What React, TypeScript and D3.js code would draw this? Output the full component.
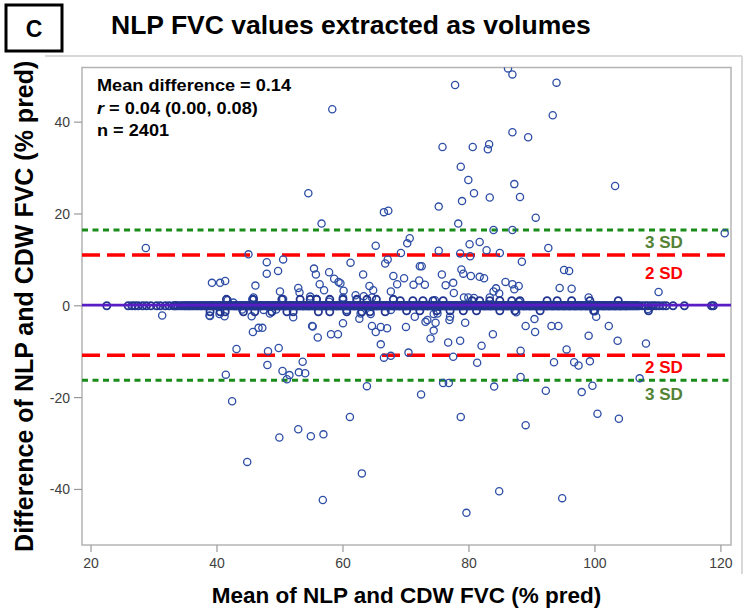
import React from 'react';
import * as d3 from 'd3';

const xTicks = [20, 40, 60, 80, 100, 120];
const yTicks = [-40, -20, 0, 20, 40];
const meanDiff = 0.14;
const sdValue = 5.45;
const statLines = ['Mean difference = 0.14', 'r = 0.04 (0.00, 0.08)', 'n = 2401'];

// points lying on zero difference (dense band)
const zeroX = [
  22.5, 25.9, 26.5, 27.0, 27.5, 28.2, 28.8, 29.5, 30.4, 31.0, 31.8, 32.4, 33.1, 33.5, 34.2, 34.8, 35.3, 35.7, 36.2, 36.8,
  37.3, 37.7, 38.2, 38.7, 39.1, 39.4, 39.9, 40.3, 40.6, 41.0, 41.5, 41.8, 42.1, 42.6, 42.9, 43.2, 43.7, 43.9, 44.3, 44.7,
  45.0, 45.3, 45.8, 46.0, 46.3, 46.8, 47.0, 47.3, 47.8, 48.0, 48.3, 48.7, 49.0, 49.3, 49.7, 49.9, 50.2, 50.7, 50.9, 51.2,
  51.6, 51.8, 52.1, 52.5, 52.8, 53.1, 53.5, 53.7, 54.0, 54.4, 54.6, 54.9, 55.3, 55.5, 55.8, 56.2, 56.4, 56.7, 57.1, 57.3,
  57.6, 58.0, 58.2, 58.5, 58.9, 59.1, 59.4, 59.8, 60.0, 60.3, 60.7, 60.9, 61.2, 61.6, 61.8, 62.1, 62.5, 62.7, 63.0, 63.4,
  63.6, 63.9, 64.3, 64.5, 64.8, 65.2, 65.4, 65.7, 66.1, 66.3, 66.6, 67.0, 67.2, 67.5, 67.9, 68.1, 68.4, 68.8, 69.0, 69.3,
  69.7, 69.9, 70.2, 70.6, 70.8, 71.1, 71.5, 71.7, 72.0, 72.4, 72.6, 72.9, 73.3, 73.5, 73.8, 74.2, 74.4, 74.7, 75.1, 75.3,
  75.6, 76.0, 76.2, 76.5, 76.9, 77.1, 77.4, 77.8, 78.0, 78.3, 78.7, 78.9, 79.2, 79.6, 79.8, 80.1, 80.5, 80.7, 81.0, 81.4,
  81.6, 81.9, 82.3, 82.5, 82.8, 83.2, 83.4, 83.7, 84.1, 84.3, 84.6, 85.0, 85.2, 85.5, 85.9, 86.1, 86.4, 86.8, 87.0, 87.3,
  87.7, 87.9, 88.2, 88.6, 88.8, 89.1, 89.5, 89.7, 90.0, 90.4, 90.6, 90.9, 91.3, 91.5, 91.8, 92.2, 92.4, 92.7, 93.1, 93.3,
  93.6, 94.0, 94.2, 94.5, 94.9, 95.1, 95.4, 95.8, 96.0, 96.3, 96.7, 96.9, 97.2, 97.6, 97.8, 98.1, 98.5, 98.7, 99.0, 99.4,
  99.6, 99.9, 100.3, 100.5, 100.8, 101.2, 101.4, 101.7, 102.1, 102.3, 102.6, 103.0, 103.2, 103.5, 103.9, 104.1, 104.4,
  104.8, 105.0, 105.4, 105.8, 106.2, 106.6, 107.0, 107.5, 108.0, 108.4, 108.9, 109.3, 109.7, 110.2, 110.8, 111.3, 112.4,
  114.2, 118.5, 118.8,
];

// more zero-difference points, filling the dense part of the band
const zeroX2 = [
  33.3, 33.8, 34.5, 35.0, 35.5, 36.0, 36.5, 37.0, 37.5, 38.0, 38.45, 38.9, 39.25, 39.65, 40.1, 40.45, 40.8, 41.25, 41.65,
  41.95, 42.35, 42.75, 43.05, 43.45, 43.8, 44.1, 44.5, 44.85, 45.15, 45.55, 45.9, 46.15, 46.55, 46.9, 47.15, 47.55, 47.9,
  48.15, 48.5, 48.85, 49.15, 49.5, 49.8, 50.05, 50.45, 50.8, 51.05, 51.4, 51.7, 51.95, 52.3, 52.65, 52.95, 53.3, 53.6,
  53.85, 54.2, 54.5, 54.75, 55.1, 55.4, 55.65, 56.0, 56.3, 56.55, 56.9, 57.2, 57.45, 57.8, 58.1, 58.35, 58.7, 59.0, 59.25,
  59.6, 59.9, 60.15, 60.5, 60.8, 61.05, 61.4, 61.7, 61.95, 62.3, 62.6, 62.85, 63.2, 63.5, 63.75, 64.1, 64.4, 64.65, 65.0,
  65.3, 65.55, 65.9, 66.2, 66.45, 66.8, 67.1, 67.35, 67.7, 68.0, 68.25, 68.6, 68.9, 69.15, 69.5, 69.8, 70.05, 70.4, 70.7,
  70.95, 71.3, 71.6, 71.85, 72.2, 72.5, 72.75, 73.1, 73.4, 73.65, 74.0, 74.3, 74.55, 74.9, 75.2, 75.45, 75.8, 76.1, 76.35,
  76.7, 77.0, 77.25, 77.6, 77.9, 78.15, 78.5, 78.8, 79.05, 79.4, 79.7, 79.95, 80.3, 80.6, 80.85, 81.2, 81.5, 81.75, 82.1,
  82.4, 82.65, 83.0, 83.3, 83.55, 83.9, 84.2, 84.45, 84.8, 85.1, 85.35, 85.7, 86.0, 86.25, 86.6, 86.9, 87.15, 87.5, 87.8,
  88.05, 88.4, 88.7, 88.95, 89.3, 89.6, 89.85, 90.2, 90.5, 90.75, 91.1, 91.4, 91.65, 92.0, 92.3, 92.55, 92.9, 93.2, 93.45,
  93.8, 94.1, 94.35, 94.7, 95.0, 95.25, 95.6, 95.9, 96.15, 96.5, 96.8, 97.05, 97.4, 97.7, 97.95, 98.3, 98.6, 98.85, 99.2,
  99.5, 99.75, 100.1, 100.4, 100.65, 101.0, 101.3, 101.55, 101.9, 102.2, 102.45, 102.8, 103.1, 103.35, 103.7, 104.0,
  104.25, 104.6, 104.9, 105.2, 105.6, 106.0, 106.4, 106.8,
];

// points just off zero, thickening the band
const nearZero: [number, number][] = [
  [69.1, 1.1], [71.1, 1.1], [72.7, 1.1], [74.3, 1.1], [75.9, 1.1], [80.5, 1.1], [81.7, 1.1], [83.3, 1.1], [84.9, 1.1],
  [86.8, 1.1], [88.1, 1.1], [92.4, 1.1], [94.0, 1.1], [96.3, 1.1], [99.2, 1.1], [103.7, 1.1],
  [70.1, -1.1], [72.2, -1.1], [74.9, -1.1], [77.0, -1.1], [79.1, -1.1], [81.2, -1.1], [84.9, -1.1], [87.3, -1.1],
  [91.3, -1.1], [99.8, -1.1], [108.5, -1.1],
  [41.5, 1.4], [45.8, 1.4], [50.3, 1.4], [53.2, 1.4], [54.8, 1.4], [55.8, 1.4], [57.9, 1.4], [60.0, 1.4], [62.2, 1.4],
  [63.8, 1.4], [65.3, 1.4], [68.0, 1.4],
  [38.9, -1.3], [40.5, -1.3], [41.3, -1.3], [44.2, -1.3], [46.0, -1.3], [48.7, -1.3], [51.1, -1.3], [52.1, -1.3],
  [56.1, -1.3], [57.9, -1.3], [60.6, -1.3], [63.0, -1.3], [64.3, -1.3], [66.7, -1.3],
];

const scatter: [number, number][] = [
  [28.7, 12.6], [45.0, 11.2], [39.2, 5.0], [40.5, 5.0], [41.3, 5.4], [41.7, 1.2], [42.6, 0.7], [46.1, 4.4], [45.8, 1.8],
  [45.6, 1.4], [47.9, 9.5], [47.9, 7.0], [50.5, 10.1], [49.7, 7.6], [50.0, 3.1], [50.5, 1.5], [52.9, 3.9], [53.1, 2.9],
  [54.8, 2.0], [55.8, 1.5], [54.5, 24.5], [58.3, 42.8], [56.6, 17.9], [55.4, 8.1], [55.7, 6.8], [56.3, 4.7], [57.0, 3.4],
  [57.8, 7.3], [58.6, 5.9], [59.3, 5.2], [59.6, 4.9], [60.1, 3.3], [60.0, 1.8], [57.8, 0.9], [61.2, 9.4], [62.0, 2.3],
  [62.2, 1.2], [63.2, 6.8], [63.3, 2.1], [64.2, 4.3], [64.8, 3.4], [64.6, 1.8], [65.2, 13.1], [66.5, 20.4], [67.2, 20.7],
  [66.7, 9.2], [67.1, 10.1], [67.6, 3.1], [68.0, 6.5], [68.6, 4.7], [69.2, 11.5], [69.7, 6.0], [70.2, 13.6], [70.6, 14.7],
  [71.2, 4.6], [72.1, 5.5], [73.0, 4.6], [72.2, 8.6], [72.5, 8.6], [74.6, 1.2], [75.2, 21.6], [75.2, 12.0], [75.7, 6.8],
  [76.3, 4.5], [77.5, 5.0], [77.6, 2.8], [77.8, 48.1], [75.8, 34.6], [78.3, 17.9], [78.7, 30.3], [78.9, 22.8], [78.6, 11.4],
  [78.8, 7.9], [79.1, 7.0], [79.9, 27.4], [80.1, 13.4], [80.2, 10.8], [80.3, 6.5], [79.2, 1.8], [79.9, 1.8], [80.8, 1.7],
  [80.6, 34.6], [80.8, 24.5], [81.7, 13.9], [81.7, 6.3], [82.4, 6.0], [82.8, 12.1], [83.0, 34.1], [83.2, 35.2], [83.3, 23.6],
  [83.9, 16.5], [83.3, 1.8], [83.9, 3.1], [84.3, 3.8], [84.8, 2.7], [84.9, 11.5], [85.8, 5.2], [86.2, 51.7], [86.9, 50.4],
  [86.9, 37.8], [86.9, 16.5], [87.2, 26.5], [88.1, 23.7], [88.4, 9.6], [86.9, 4.7], [87.2, 3.6], [87.9, 4.3], [89.4, 36.7],
  [90.6, 19.2], [87.9, 0.9], [92.6, 12.6], [93.3, 41.5], [93.9, 48.6], [95.1, 7.8], [95.9, 7.6], [94.4, 3.9], [96.3, 3.7],
  [99.0, 1.8], [103.2, 26.1], [110.1, 3.0], [120.6, 15.8],
  [31.3, -2.1], [38.8, -2.1], [38.9, -2.2], [40.4, -1.8], [41.2, -2.3], [44.0, -0.8], [45.5, -2.3], [45.7, -5.7],
  [46.6, -4.8], [47.2, -4.8], [47.4, -0.9], [48.4, -1.7], [49.4, -0.8], [43.1, -9.4], [41.4, -15.0], [42.4, -20.8],
  [44.8, -34.0], [48.1, -9.9], [48.0, -12.9], [49.8, -9.2], [50.4, -14.2], [51.5, -15.1], [51.1, -16.0], [49.9, -28.7],
  [52.1, -2.5], [52.9, -26.9], [53.0, -14.5], [54.0, -14.7], [53.6, -12.2], [55.1, -4.4], [55.2, -4.5], [56.0, -6.9],
  [54.9, -28.4], [56.9, -28.0], [56.8, -42.3], [58.1, -6.2], [59.2, -6.2], [60.0, -3.8], [60.6, -0.9], [61.1, -24.2],
  [62.6, -2.8], [62.8, -1.7], [63.0, -36.5], [63.8, -17.5], [64.4, -1.8], [64.6, -4.4], [65.2, -5.7], [66.0, -4.6],
  [66.0, -8.4], [66.5, -11.3], [67.6, -10.9], [67.0, -4.9], [67.6, -0.9], [70.0, -4.6], [70.4, -10.2],
  [71.4, -2.4], [72.4, -19.3], [73.1, -3.5], [73.4, -3.1], [73.9, -7.1], [74.4, -5.4], [74.7, -3.7], [74.4, -1.8],
  [75.0, -1.7], [75.9, -16.8], [76.8, -16.8], [76.7, -8.0], [76.9, -3.1], [77.0, -2.4], [77.5, -11.1], [78.6, -7.6],
  [78.7, -24.2], [79.4, -3.7], [79.6, -45.1], [81.3, -12.4], [82.0, -8.7], [83.8, -6.2], [84.0, -17.6], [84.8, -40.4],
  [87.5, -1.4], [88.2, -9.8], [88.2, -15.5], [89.0, -26.0], [89.0, -4.4], [90.4, -2.9], [90.5, -5.7], [92.2, -18.5],
  [93.1, -4.4], [94.2, -4.4], [93.5, -12.3], [94.8, -41.9], [95.5, -9.5], [96.7, -12.3], [97.4, -13.0], [97.9, -18.8],
  [99.0, -6.5], [99.2, -12.1], [99.6, -17.4], [100.0, -1.2], [100.2, -2.4], [100.4, -23.5], [102.2, -4.4], [103.6, -7.6],
  [103.8, -24.6], [107.1, -15.8], [108.1, -8.2], [108.4, -0.7],
];

const FONT = 'Liberation Sans, Arial, Helvetica, sans-serif';

export default function App() {
  const W = 750;
  const H = 611;
  const left = 82, right = 731, top = 67.5, bottom = 545;
  const x = d3.scaleLinear().domain([18.57, 121.6]).range([left, right]);
  const y = d3.scaleLinear().domain([-52.1, 51.9]).range([bottom, top]);

  const bandPoints: [number, number][] = [
    ...zeroX.map((v) => [v, 0] as [number, number]),
    ...zeroX2.map((v) => [v, 0] as [number, number]),
    ...nearZero,
  ];

  const up2 = meanDiff + 2 * sdValue;
  const lo2 = meanDiff - 2 * sdValue;
  const up3 = meanDiff + 3 * sdValue;
  const lo3 = meanDiff - 3 * sdValue;
  const labelX = 664;

  return (
    <svg width={W} height={H} style={{ position: 'absolute', left: 0, top: 0, background: '#fff' }} fontFamily={FONT}>
      <rect x={0} y={0} width={W} height={H} fill="#fff" />
      <defs>
        <clipPath id="plotclip">
          <rect x={left} y={top} width={right - left} height={bottom - top} />
        </clipPath>
      </defs>
      {/* panel letter box */}
      <rect x={6} y={5} width={56} height={46} fill="none" stroke="#000" strokeWidth={3} />
      <text x={34} y={37} textAnchor="middle" fontSize={23} fontWeight="bold">C</text>
      <text x={111} y={34} fontSize={26.5} fontWeight="bold">NLP FVC values extracted as volumes</text>
      {/* light panel border */}
      <line x1={45} x2={742} y1={56} y2={56} stroke="#d8d8d8" strokeWidth={2} />
      <line x1={742} x2={742} y1={56} y2={574} stroke="#d8d8d8" strokeWidth={2} />

      {/* frame */}
      <rect x={left} y={top} width={right - left} height={bottom - top} fill="none" stroke="#b4b4b4" strokeWidth={1.5} />

      {/* ticks */}
      {xTicks.map((t) => (
        <g key={'xt' + t}>
          <line x1={x(t)} x2={x(t)} y1={bottom} y2={bottom + 7} stroke="#999" strokeWidth={1.2} />
          <text x={x(t)} y={568} textAnchor="middle" fontSize={14} fill="#404040">{t}</text>
        </g>
      ))}
      {yTicks.map((t) => (
        <g key={'yt' + t}>
          <line x1={left - 8} x2={left} y1={y(t)} y2={y(t)} stroke="#999" strokeWidth={1.2} />
          <text x={70} y={y(t) + 5} textAnchor="end" fontSize={14} fill="#404040">{t}</text>
        </g>
      ))}

      <g clipPath="url(#plotclip)">
        {/* limits of agreement */}
        <line x1={left} x2={right} y1={y(up3)} y2={y(up3)} stroke="#1a8c1a" strokeWidth={3} strokeDasharray="6 4.5" />
        <line x1={left} x2={right} y1={y(lo3)} y2={y(lo3)} stroke="#1a8c1a" strokeWidth={3} strokeDasharray="6 4.5" />
        <line x1={left} x2={right} y1={y(up2)} y2={y(up2)} stroke="#ff0000" strokeWidth={3.5} strokeDasharray="18 7" />
        <line x1={left} x2={right} y1={y(lo2)} y2={y(lo2)} stroke="#ff0000" strokeWidth={3.5} strokeDasharray="18 7" />

        {scatter.map((p, i) => (
          <circle key={'s' + i} cx={x(p[0])} cy={y(p[1])} r={3.6} fill="none" stroke="#2e4ea6" strokeWidth={1.3} />
        ))}
        {bandPoints.map((p, i) => (
          <circle key={'b' + i} cx={x(p[0])} cy={y(p[1])} r={3.6} fill="none" stroke="#22358f" strokeWidth={1.8} />
        ))}

        <line x1={left} x2={right} y1={y(meanDiff)} y2={y(meanDiff)} stroke="#5a1cc4" strokeWidth={2.6} />
      </g>

      {/* SD labels */}
      <text x={labelX} y={y(up3) + 18} textAnchor="middle" fontSize={17} fontWeight="bold" fill="#548235">3 SD</text>
      <text x={labelX} y={y(up2) + 24} textAnchor="middle" fontSize={17} fontWeight="bold" fill="#ff0000">2 SD</text>
      <text x={labelX} y={y(lo2) + 18} textAnchor="middle" fontSize={17} fontWeight="bold" fill="#ff0000">2 SD</text>
      <text x={labelX} y={y(lo3) + 20} textAnchor="middle" fontSize={17} fontWeight="bold" fill="#548235">3 SD</text>

      {/* stats text */}
      <g transform="translate(97, 0) scale(1.1, 1)">
        <text x={0} y={90.7} fontSize={16.5} fontWeight="bold">{statLines[0]}</text>
        <text x={0} y={114} fontSize={16.5} fontWeight="bold">
          <tspan fontStyle="italic">r</tspan>
          <tspan>{statLines[1].slice(1)}</tspan>
        </text>
        <text x={0} y={136} fontSize={16.5} fontWeight="bold">{statLines[2]}</text>
      </g>

      {/* axis titles */}
      <text x={(left + right) / 2} y={603} textAnchor="middle" fontSize={22.5} fontWeight="bold">Mean of NLP and CDW FVC (% pred)</text>
      <text transform={`translate(33, ${(top + bottom) / 2}) rotate(-90)`} textAnchor="middle" fontSize={25} fontWeight="bold">
        Difference of NLP and CDW FVC (% pred)
      </text>
    </svg>
  );
}
